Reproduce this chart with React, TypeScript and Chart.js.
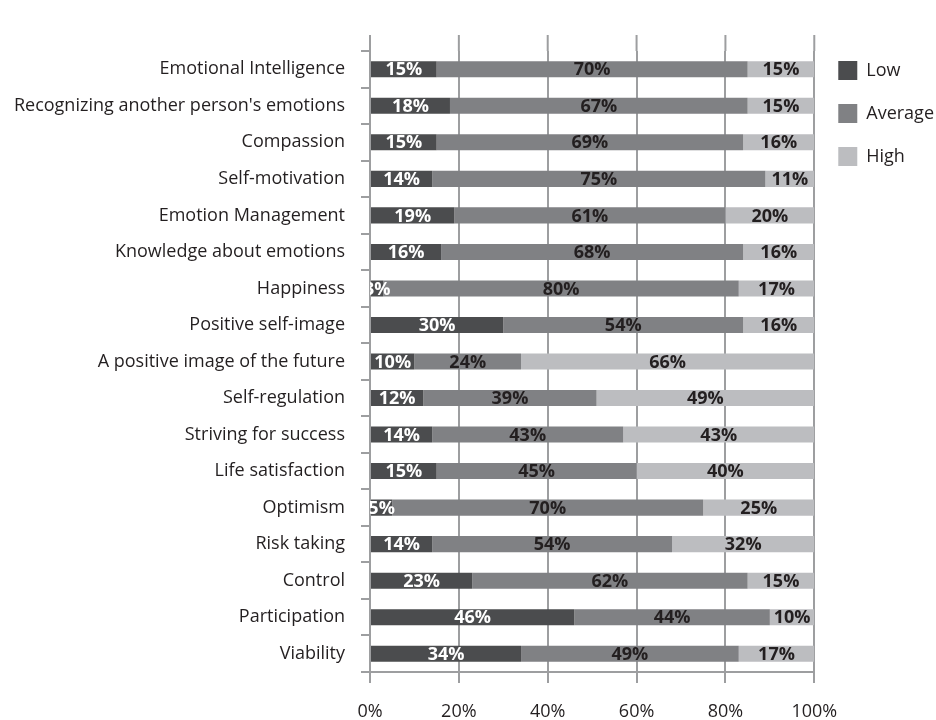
import React, { useEffect, useRef } from 'react';
import { Chart, registerables } from 'chart.js';

Chart.register(...registerables);

const categories = [
  'Emotional Intelligence',
  "Recognizing another person's emotions",
  'Compassion',
  'Self-motivation',
  'Emotion Management',
  'Knowledge about emotions',
  'Happiness',
  'Positive self-image',
  'A positive image of the future',
  'Self-regulation',
  'Striving for success',
  'Life satisfaction',
  'Optimism',
  'Risk taking',
  'Control',
  'Participation',
  'Viability',
];
const lowValues = [15, 18, 15, 14, 19, 16, 3, 30, 10, 12, 14, 15, 5, 14, 23, 46, 34];
const averageValues = [70, 67, 69, 75, 61, 68, 80, 54, 24, 39, 43, 45, 70, 54, 62, 44, 49];
const highValues = [15, 15, 16, 11, 20, 16, 17, 16, 66, 49, 43, 40, 25, 32, 15, 10, 17];
const seriesNames = ['Low', 'Average', 'High'];
const xTickValues = [0, 20, 40, 60, 80, 100];

const FONT = "'Open Sans', 'DejaVu Sans', sans-serif";
const TEXT = '#231f20';
const GRID = '#9d9ea0';
const COLORS = ['#4b4c4e', '#808184', '#bcbdc0'];
const LABEL_COLORS = ['#ffffff', TEXT, TEXT];
const TOP_PAD = 37;

const barLabels = {
  id: 'barLabels',
  afterDraw(chart: any) {
    const { ctx, chartArea } = chart;
    ctx.save();
    ctx.beginPath();
    ctx.rect(chartArea.left, chartArea.top, chartArea.right - chartArea.left, chartArea.bottom - chartArea.top);
    ctx.clip();
    ctx.font = `bold 18px ${FONT}`;
    ctx.textAlign = 'center';
    ctx.textBaseline = 'middle';
    chart.data.datasets.forEach((ds: any, di: number) => {
      const meta = chart.getDatasetMeta(di);
      meta.data.forEach((bar: any, i: number) => {
        const v = ds.data[i];
        const x = (bar.x + bar.base) / 2;
        ctx.fillStyle = LABEL_COLORS[di];
        ctx.fillText(`${v}%`, x, bar.y + 1);
      });
    });
    ctx.restore();
  },
};

const gridExtension = {
  id: 'gridExtension',
  afterDraw(chart: any) {
    const { ctx, chartArea } = chart;
    const xs = chart.scales.x;
    ctx.save();
    ctx.strokeStyle = GRID;
    ctx.lineWidth = 2;
    xs.ticks.forEach((t: any) => {
      const px = xs.getPixelForValue(t.value);
      ctx.beginPath();
      ctx.moveTo(px, TOP_PAD - 2);
      ctx.lineTo(px, chartArea.top);
      ctx.stroke();
    });
    ctx.restore();
  },
};

export default function App() {
  const canvasRef = useRef<HTMLCanvasElement | null>(null);

  useEffect(() => {
    document.body.style.margin = '0';
    const canvas = canvasRef.current;
    if (!canvas) return;
    const datasets = [lowValues, averageValues, highValues].map((vals, i) => ({
      label: seriesNames[i],
      data: vals,
      backgroundColor: COLORS[i],
      borderWidth: 0,
      categoryPercentage: 1,
      barPercentage: 0.44,
    }));
    const chart = new Chart(canvas, {
      type: 'bar',
      data: { labels: categories, datasets },
      plugins: [barLabels, gridExtension],
      options: {
        indexAxis: 'y',
        responsive: true,
        maintainAspectRatio: false,
        animation: false,
        layout: { padding: { top: TOP_PAD, right: -8, left: 5, bottom: 0 } },
        plugins: {
          tooltip: { enabled: false },
          title: {
            display: true,
            text: ' ',
            font: { size: 1, lineHeight: 1 },
            padding: { top: 0, bottom: 13 },
          },
          legend: {
            position: 'right',
            align: 'start',
            labels: {
              boxWidth: 19,
              boxHeight: 19,
              padding: 24,
              color: TEXT,
              font: { family: FONT, size: 18 },
            },
          },
        },
        scales: {
          x: {
            stacked: true,
            min: 0,
            max: 100,
            z: 1,
            afterBuildTicks: (scale: any) => {
              scale.ticks = xTickValues.map((v) => ({ value: v }));
            },
            afterFit: (scale: any) => {
              scale.height = 48;
              scale.paddingLeft = 0;
              scale.paddingRight = 0;
            },
            ticks: {
              callback: (v: any) => `${v}%`,
              color: TEXT,
              font: { family: FONT, size: 18 },
              padding: 18,
              maxRotation: 0,
            },
            grid: { color: GRID, lineWidth: 2, tickLength: 11, drawTicks: true },
            border: { display: true, color: GRID, width: 2 },
          },
          y: {
            stacked: true,
            afterFit: (scale: any) => {
              scale.width = 365;
              scale.paddingTop = 0;
              scale.paddingBottom = 0;
            },
            grid: {
              display: true,
              drawOnChartArea: false,
              drawTicks: true,
              tickLength: 9,
              color: GRID,
              lineWidth: 2,
              offset: true,
            },
            border: { display: true, color: GRID, width: 2 },
            ticks: {
              color: TEXT,
              font: { family: FONT, size: 18 },
              padding: 16,
              autoSkip: false,
            },
          },
        },
      } as any,
    });
    return () => chart.destroy();
  }, []);

  return (
    <div style={{ width: 936, height: 720, position: 'relative' }}>
      <canvas ref={canvasRef} />
    </div>
  );
}
